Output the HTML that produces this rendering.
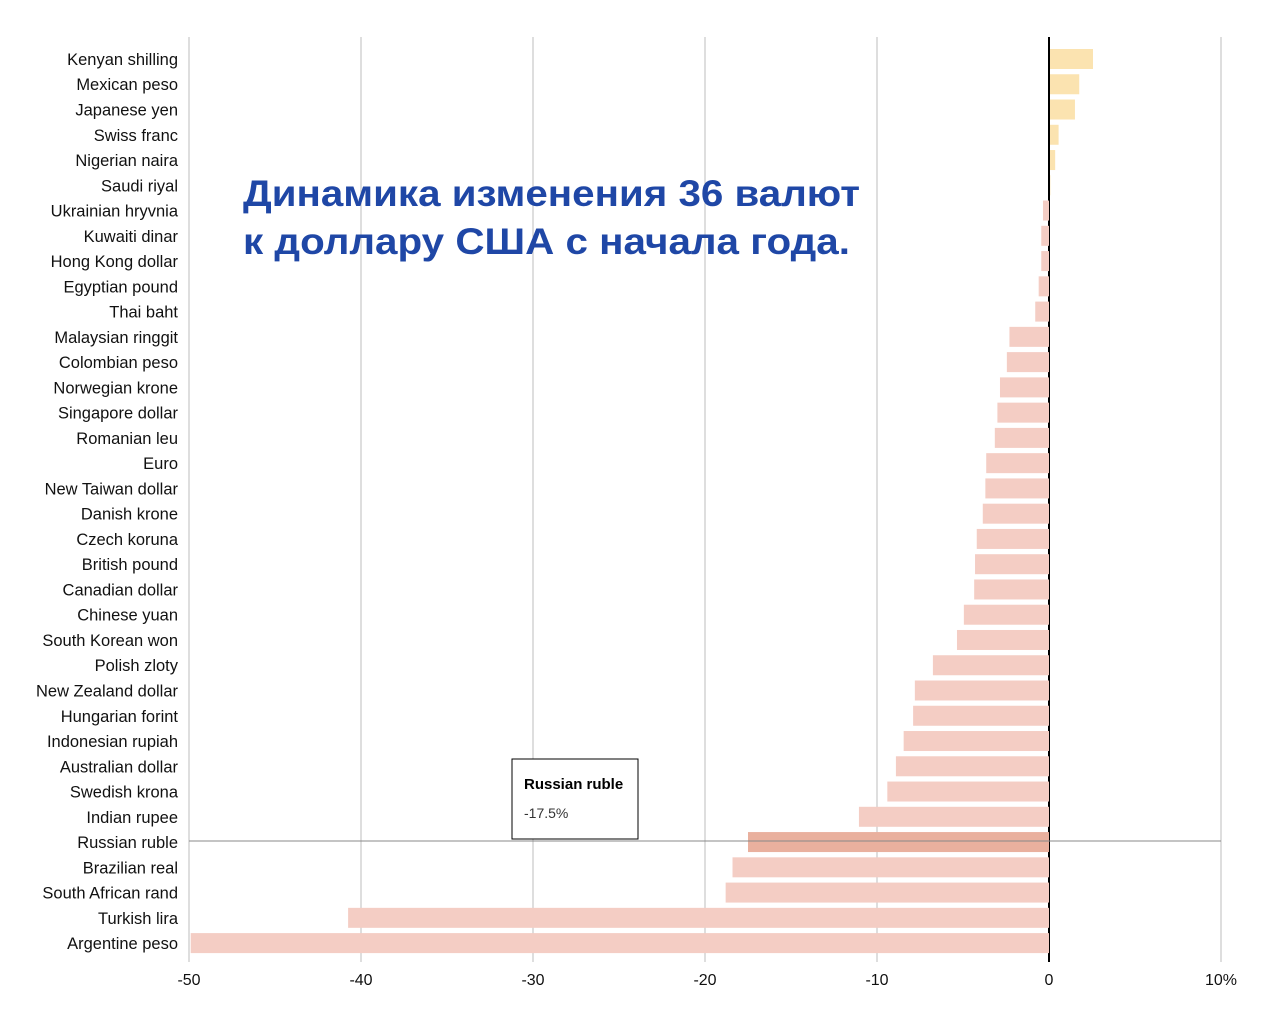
<!DOCTYPE html>
<html><head><meta charset="utf-8">
<style>
body{margin:0;background:#fff;width:1280px;height:1027px;overflow:hidden;font-family:"Liberation Sans",sans-serif}
svg text{font-family:"Liberation Sans",sans-serif}
</style></head><body>
<svg id="chart" width="1280" height="1027" xmlns="http://www.w3.org/2000/svg"></svg>
<script>
const categories=["Kenyan shilling","Mexican peso","Japanese yen","Swiss franc","Nigerian naira","Saudi riyal","Ukrainian hryvnia","Kuwaiti dinar","Hong Kong dollar","Egyptian pound","Thai baht","Malaysian ringgit","Colombian peso","Norwegian krone","Singapore dollar","Romanian leu","Euro","New Taiwan dollar","Danish krone","Czech koruna","British pound","Canadian dollar","Chinese yuan","South Korean won","Polish zloty","New Zealand dollar","Hungarian forint","Indonesian rupiah","Australian dollar","Swedish krona","Indian rupee","Russian ruble","Brazilian real","South African rand","Turkish lira","Argentine peso"];
const values=[2.5,1.7,1.45,0.5,0.3,0.02,-0.35,-0.45,-0.45,-0.6,-0.8,-2.3,-2.45,-2.85,-3.0,-3.15,-3.65,-3.7,-3.85,-4.2,-4.3,-4.35,-4.95,-5.35,-6.75,-7.8,-7.9,-8.45,-8.9,-9.4,-11.05,-17.5,-18.4,-18.8,-40.75,-49.9];
const ticks=[-50,-40,-30,-20,-10,0,10];
const tickLabels=["-50","-40","-30","-20","-10","0","10%"];
const highlight="Russian ruble";
const NS="http://www.w3.org/2000/svg";
const svg=document.getElementById('chart');
const x=v=>1049+v*17.2;
const y=i=>59+i*25.26;
function mk(t,a,txt){const e=document.createElementNS(NS,t);for(const k in a)e.setAttribute(k,a[k]);if(txt!=null)e.textContent=txt;svg.appendChild(e);return e;}
ticks.forEach((t,i)=>{
 const g=mk('line',{x1:x(t),x2:x(t),y1:37,y2:962,stroke:t===0?'#000':'#bdbdbd','stroke-width':t===0?2:1});
 
 
 const l=mk('text',{x:x(t),y:985,'text-anchor':'middle','font-size':16,fill:'#111'},tickLabels[i]);
 
 
});
categories.forEach((c,i)=>{
 const v=values[i];
 const l=mk('text',{x:178,y:y(i)+6,'text-anchor':'end','font-size':17,fill:'#111',transform:'translate(178 0) scale(0.97 1) translate(-178 0)'},c);
 
 
 const x0=Math.min(x(0),x(v)),w=Math.abs(x(v)-x(0));
 const col=c===highlight?'#e9b09e':(v>=0?'#fbe3b0':'#f4cdc4');
 const b=mk('rect',{x:v>=0?x0+1:x0,y:y(i)-10,width:w,height:20,fill:col});
 
 
});
const ri=categories.indexOf(highlight);
const hl=mk('line',{x1:189,x2:1221,y1:y(ri)-1,y2:y(ri)-1,stroke:'#888','stroke-width':1});


const tb=mk('rect',{x:512,y:759,width:126,height:80,fill:'#fff',stroke:'#000','stroke-width':1});


const tt=mk('text',{x:524,y:789,'font-size':15,'font-weight':'bold',fill:'#000'},highlight);


const tv=mk('text',{x:524,y:818,'font-size':14,fill:'#333'},values[ri].toFixed(1)+'%');


const t1=mk('text',{x:243,y:206,'font-size':37,'font-weight':'bold',fill:'#1f47a6',textLength:617,lengthAdjust:'spacingAndGlyphs'},'Динамика изменения 36 валют');


const t2=mk('text',{x:243,y:254,'font-size':37,'font-weight':'bold',fill:'#1f47a6',textLength:607,lengthAdjust:'spacingAndGlyphs'},'к доллару США с начала года.');


</script>
</body></html>
